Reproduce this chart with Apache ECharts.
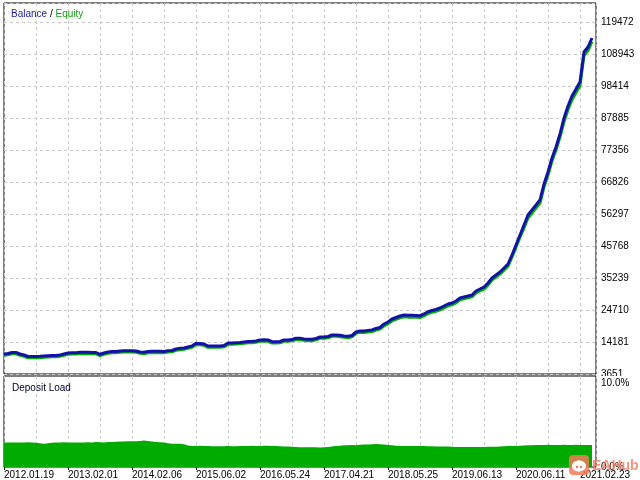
<!DOCTYPE html>
<html><head><meta charset="utf-8">
<script src="https://cdn.jsdelivr.net/npm/echarts@6/dist/echarts.min.js"></script>
<style>html,body{margin:0;padding:0;background:#fff}#c{width:640px;height:480px}</style>
</head><body><div id="c"></div>
<script>
// x-axis date labels (every 16th deal index)
const dateLabels = ['2012.01.19','2013.02.01','2014.02.06','2015.06.02','2016.05.24','2017.04.21','2018.05.25','2019.06.13','2020.06.11','2021.02.23'];
// right-hand tick labels of the balance panel (bottom to top)
const yTickLabels = ['3651','14181','24710','35239','45768','56297','66826','77356','87885','98414','108943','119472'];
const Y_BASE = 3651;
const Y_STEP = 10529.1;

const balance = [
10232,10396,10725,10725,10232,9903,9409,9409,9409,9475,
9574,9672,9738,9738,9903,10232,10561,10659,10659,10791,
10791,10791,10725,10725,10133,10561,10890,11054,11054,11219,
11318,11318,11318,11219,10890,10791,11054,11120,11120,11120,
11054,11318,11383,11877,12107,12206,12535,12864,13752,13687,
13522,12864,12864,12864,12864,13029,13851,13851,13950,14016,
14180,14345,14410,14509,14838,14937,14838,14279,14279,14345,
14838,14838,15003,15398,15398,15167,15069,15069,15332,15825,
15825,15990,16483,16483,16385,16154,16056,16319,17470,17800,
17800,17964,18129,18622,18951,20103,20761,21748,22241,22735,
23064,22965,22965,22900,22834,23393,24150,24545,24874,25367,
26025,26683,27012,27671,28658,28987,29316,29645,30961,31619,
32277,33593,35238,36225,37213,38529,39845,42806,46096,49387,
52677,55967,57613,59258,60903,66167,70116,74722,78342,82619,
87884,91832,95122,97426,99729,109600,111245,114206];

const equity = [
9782,9946,10275,10275,9782,9453,8959,8959,8959,9025,
9124,9222,9288,9288,9453,9782,10111,10209,10209,10341,
10341,10341,10275,10275,9683,10111,10440,10604,10604,10769,
10868,10868,10868,10769,10440,10341,10604,10670,10670,10670,
10604,10868,10933,11427,11657,11756,12085,12414,13302,13237,
13072,12414,12414,12414,12414,12579,13401,13401,13500,13566,
13730,13895,13960,14059,14388,14487,14388,13829,13829,13895,
14388,14388,14553,14948,14948,14717,14619,14619,14882,15375,
15375,15540,16033,16033,15935,15704,15606,15869,17020,17350,
17300,17464,17629,18122,18451,19503,20161,21148,21641,22135,
22464,22365,22365,22300,22234,22793,23550,23945,24274,24767,
25425,26083,26412,27071,28058,28387,28716,29045,30361,31019,
31577,32893,34538,35525,36513,37829,39145,42106,45396,48687,
51677,54967,56613,58258,59903,65167,69116,73722,77342,81619,
86684,90632,93922,96226,98529,108400,110045,113006];

const depositLoad = [
2.68,2.70,2.70,2.69,2.70,2.72,2.70,2.66,
2.60,2.56,2.62,
2.66,2.68,2.70,2.72,2.70,2.68,2.68,2.70,2.70,2.72,2.70,2.74,2.72,2.70,2.74,2.76,
2.78,2.80,2.80,2.82,2.84,2.82,2.86,2.90,2.86,
2.80,2.76,2.72,2.70,
2.62,2.56,2.56,2.55,2.50,
2.35,2.32,2.30,
2.34,2.32,2.30,2.28,2.27,2.27,2.28,2.30,2.28,2.27,
2.30,2.31,2.32,2.33,2.32,2.31,2.33,2.34,2.32,2.30,2.28,2.26,2.24,2.22,
2.20,2.18,2.16,2.16,2.18,2.16,2.15,2.17,2.20,2.25,2.30,2.34,
2.38,2.40,2.42,2.40,2.44,2.46,2.48,2.50,
2.52,2.50,2.46,2.42,2.38,
2.34,2.32,2.31,2.31,2.30,2.30,2.31,2.30,2.28,2.27,2.26,2.25,2.24,2.24,2.22,
2.21,2.20,2.20,2.19,2.19,2.20,2.20,2.21,2.22,2.22,2.23,2.25,2.27,
2.30,2.32,2.32,2.34,2.36,2.38,2.40,
2.42,2.43,2.42,2.44,2.43,2.42,2.43,2.44,2.42,2.43,2.44,2.43,2.42,2.43,2.42,2.42];

const FONT = "'Liberation Sans',sans-serif";
const FS = 10;
const X_MAX = 148;
const gridDash = {color:'#c8c8c8', type:[3,3], width:1};

function xAxisCfg(gi, showLabels){
  return {
    type:'value', gridIndex:gi, min:0, max:X_MAX, interval:16,
    axisLine:{show:false},
    axisTick:{show:showLabels, length:3, lineStyle:{color:'#000'}},
    axisLabel:{show:showLabels, align:'left', margin:3, color:'#000', fontSize:FS, fontFamily:FONT,
      showMaxLabel:false,
      formatter:(v)=> (v % 16 === 0 ? (dateLabels[v/16] || '') : '')},
    splitLine:{show:true, lineStyle:gridDash},
    minorTick:{show:false, splitNumber:2},
    minorSplitLine:{show:true, lineStyle:gridDash}
  };
}

const chart = echarts.init(document.getElementById('c'), null, {renderer:'canvas'});
chart.setOption({
  animation:false,
  backgroundColor:'#fff',
  textStyle:{fontFamily:FONT},
  title:[
    {text:'{b|Balance} / {e|Equity}', left:6, top:4,
     textStyle:{fontSize:FS, fontWeight:'normal', color:'#000', fontFamily:FONT,
       rich:{b:{color:'#1a1aa6', fontSize:FS, fontFamily:FONT}, e:{color:'#14a014', fontSize:FS, fontFamily:FONT}}}},
    {text:'Deposit Load', left:7, top:378,
     textStyle:{fontSize:FS, fontWeight:'normal', color:'#000033', fontFamily:FONT}}
  ],
  grid:[
    {left:4, right:44, top:3, height:371, show:true, borderColor:'#000', borderWidth:1, containLabel:false},
    {left:4, right:44, top:376, height:91, show:true, borderColor:'#000', borderWidth:1, containLabel:false}
  ],
  xAxis:[xAxisCfg(0,false), xAxisCfg(1,true)],
  yAxis:[
    {type:'value', gridIndex:0, position:'right', min:0, max:122074, interval:Y_STEP,
     axisLine:{show:false}, axisTick:{show:false},
     axisLabel:{color:'#000', fontSize:FS, margin:5, fontFamily:FONT,
       formatter:(v)=>{const k=v/Y_STEP; const r=Math.round(k); return Math.abs(k-r)<1e-6 ? (yTickLabels[r]||'') : '';}},
     splitLine:{show:true, lineStyle:gridDash}},
    {type:'value', gridIndex:1, position:'right', min:0, max:10, interval:10,
     axisLine:{show:false}, axisTick:{show:false}, splitLine:{show:false},
     axisLabel:{color:'#000', fontSize:FS, margin:5, fontFamily:FONT,
       formatter:(v)=> v>=10 ? '{t|'+v.toFixed(1)+'%}' : '{b|'+v.toFixed(1)+'%}',
       rich:{t:{padding:[14,0,0,0], fontSize:FS, fontFamily:FONT, color:'#000'}, b:{fontSize:FS, fontFamily:FONT, color:'#000'}}}}
  ],
  series:[
    {name:'Equity', type:'line', xAxisIndex:0, yAxisIndex:0, showSymbol:false, z:2,
     data:equity.map((v,i)=>[i, v - Y_BASE]), lineStyle:{color:'#00b000', width:3}},
    {name:'Balance', type:'line', xAxisIndex:0, yAxisIndex:0, showSymbol:false, z:3,
     data:balance.map((v,i)=>[i, v - Y_BASE]), lineStyle:{color:'#1212a8', width:3}},
    {name:'Deposit Load', type:'line', xAxisIndex:1, yAxisIndex:1, showSymbol:false, step:'end', z:2,
     data:depositLoad.map((v,i)=>[i, v]), lineStyle:{width:0}, areaStyle:{color:'#00ab00', opacity:1}}
  ],
  graphic:[
    {type:'rect', shape:{x:597, y:376, width:43, height:2}, style:{fill:'#fff'}, z:100},
    {type:'rect', shape:{x:569, y:455, width:20, height:20, r:4}, style:{fill:'#f47a5c', opacity:0.85}, z:100},
    {type:'ellipse', shape:{cx:579, cy:466, rx:7, ry:5.5}, style:{fill:'#fff'}, z:101},
    {type:'circle', shape:{cx:577, cy:467, r:1.2}, style:{fill:'#f47a5c'}, z:102},
    {type:'circle', shape:{cx:581, cy:467, r:1.2}, style:{fill:'#f47a5c'}, z:102},
    {type:'text', x:592, y:459, style:{text:'EAHub', fontSize:14, fontWeight:'bold', fontFamily:FONT, fill:'#f47a5c', opacity:0.8}, z:100}
  ]
});
</script>
</body></html>
